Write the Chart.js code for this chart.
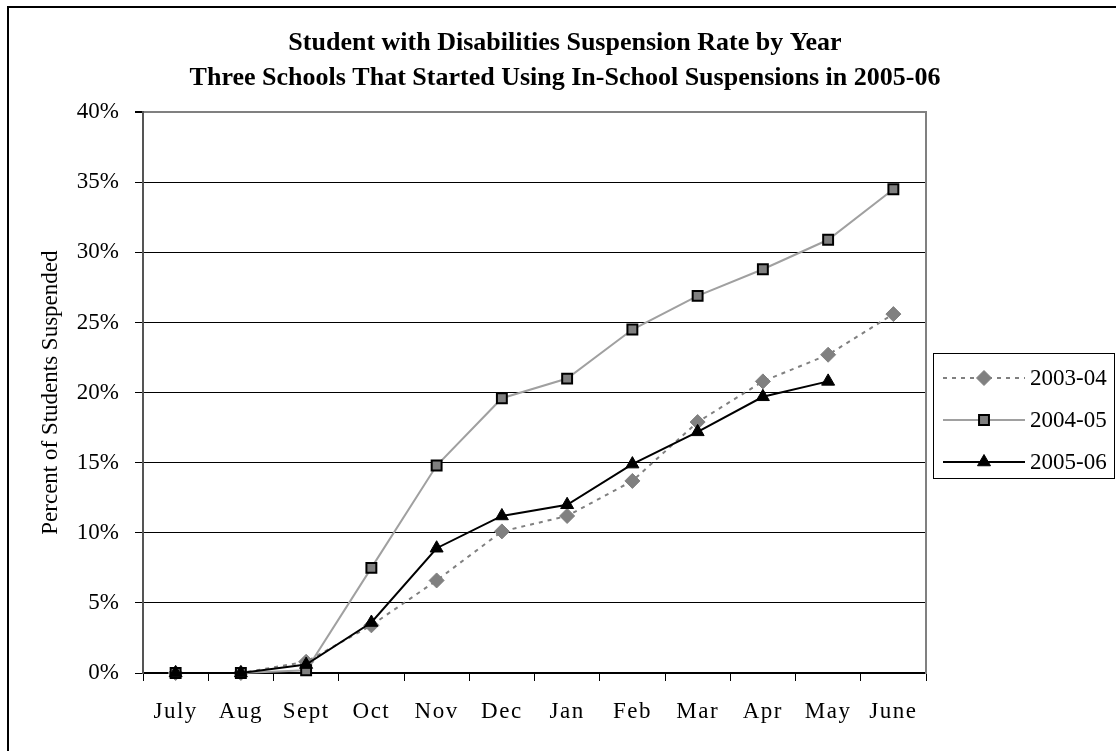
<!DOCTYPE html>
<html>
<head>
<meta charset="utf-8">
<script src="https://cdn.jsdelivr.net/npm/chart.js@4/dist/chart.umd.min.js"></script>
<style>
  html, body { margin: 0; padding: 0; background: #fff; }
  #wrap { width: 1116px; height: 751px; position: relative; }
</style>
</head>
<body>
<div id="wrap"><canvas id="chart" width="1116" height="751"></canvas></div>
<script>
// Months of the school year
const months = ['July', 'Aug', 'Sept', 'Oct', 'Nov', 'Dec', 'Jan', 'Feb', 'Mar', 'Apr', 'May', 'June'];

// Cumulative suspension rate (%) for students with disabilities
const rate2003_04 = [0, 0, 0.8, 3.4, 6.6, 10.1, 11.2, 13.7, 17.9, 20.8, 22.7, 25.6];
const rate2004_05 = [0, 0, 0.2, 7.5, 14.8, 19.6, 21.0, 24.5, 26.9, 28.8, 30.9, 34.5];
const rate2005_06 = [0, 0, 0.6, 3.6, 8.9, 11.2, 12.0, 14.9, 17.2, 19.7, 20.8, null];

const seriesLabels = ['2003-04', '2004-05', '2005-06'];
const titleLines = [
  'Student with Disabilities Suspension Rate by Year',
  'Three Schools That Started Using In-School Suspensions in 2005-06'
];
const yTitle = 'Percent of Students Suspended';

const FONT = "'Liberation Serif', 'Times New Roman', serif";
Chart.defaults.font.family = FONT;
Chart.defaults.color = '#000';

// Category axis whose labels are drawn with a little letter spacing
class SpacedCategoryScale extends Chart.CategoryScale {
  drawLabels(area) {
    const ctx = this.ctx;
    ctx.save();
    ctx.letterSpacing = '1.5px';
    super.drawLabels(area);
    ctx.restore();
  }
}
SpacedCategoryScale.id = 'spacedCategory';
SpacedCategoryScale.defaults = Chart.CategoryScale.defaults;
Chart.register(SpacedCategoryScale);

// Outer frame and white background
const framePlugin = {
  id: 'frame',
  beforeDraw(chart) {
    const ctx = chart.ctx;
    ctx.save();
    ctx.fillStyle = '#fff';
    ctx.fillRect(0, 0, chart.width, chart.height);
    ctx.strokeStyle = '#000';
    ctx.lineWidth = 2;
    ctx.beginPath();
    ctx.moveTo(8, chart.height + 5);
    ctx.lineTo(8, 7);
    ctx.lineTo(chart.width + 5, 7);
    ctx.stroke();
    ctx.restore();
  }
};

// Boxed legend with line samples and markers
const boxLegendPlugin = {
  id: 'boxLegend',
  afterDraw(chart) {
    const ctx = chart.ctx;
    const area = chart.chartArea;
    const left = area.right + 7, right = chart.width - 1;
    const top = 353, rowGap = 42;
    const bottom = top + 125;
    ctx.save();
    ctx.strokeStyle = '#000';
    ctx.lineWidth = 1;
    ctx.strokeRect(left + 0.5, top + 0.5, right - left - 1, bottom - top);
    chart.data.datasets.forEach((ds, i) => {
      const y = top + 25 + i * rowGap;
      const x0 = left + 10, x1 = left + 92, xm = (x0 + x1) / 2;
      ctx.save();
      ctx.strokeStyle = ds.borderColor;
      ctx.lineWidth = ds.borderWidth;
      ctx.setLineDash(ds.borderDash || []);
      ctx.beginPath();
      ctx.moveTo(x0, y);
      ctx.lineTo(x1, y);
      ctx.stroke();
      ctx.restore();
      ctx.save();
      ctx.fillStyle = ds.pointBackgroundColor;
      ctx.strokeStyle = ds.pointBorderColor;
      ctx.lineWidth = ds.pointBorderWidth;
      Chart.helpers.drawPoint(ctx, {
        pointStyle: ds.pointStyle,
        radius: ds.pointRadius,
        borderWidth: ds.pointBorderWidth,
        rotation: 0
      }, xm, y);
      ctx.restore();
      ctx.fillStyle = '#000';
      ctx.font = '23px ' + FONT;
      ctx.textBaseline = 'middle';
      ctx.textAlign = 'left';
      ctx.fillText(ds.label, x1 + 5, y + 1);
    });
    ctx.restore();
  }
};

const chart = new Chart(document.getElementById('chart'), {
  type: 'line',
  data: {
    labels: months,
    datasets: [
      {
        label: seriesLabels[0],
        data: rate2003_04,
        borderColor: '#808080',
        borderWidth: 2,
        borderDash: [4, 5],
        pointStyle: 'rectRot',
        pointRadius: 7.5,
        pointBackgroundColor: '#808080',
        pointBorderColor: '#808080',
        pointBorderWidth: 1,
        order: 2,
        clip: false
      },
      {
        label: seriesLabels[1],
        data: rate2004_05,
        borderColor: '#a0a0a0',
        borderWidth: 2,
        pointStyle: 'rect',
        pointRadius: 7,
        pointBackgroundColor: '#808080',
        pointBorderColor: '#000',
        pointBorderWidth: 2,
        order: 1,
        clip: false
      },
      {
        label: seriesLabels[2],
        data: rate2005_06,
        borderColor: '#000',
        borderWidth: 2,
        pointStyle: 'triangle',
        pointRadius: 7.5,
        pointBackgroundColor: '#000',
        pointBorderColor: '#000',
        pointBorderWidth: 1,
        order: 0,
        clip: false
      }
    ]
  },
  options: {
    responsive: false,
    animation: false,
    events: [],
    layout: { padding: { left: 14, right: 0, top: 0, bottom: 0 } },
    plugins: {
      legend: { display: false },
      tooltip: { enabled: false },
      title: {
        display: true,
        text: titleLines,
        color: '#000',
        font: { family: FONT, size: 26, weight: 'bold', lineHeight: 1.35 },
        padding: { top: 26, bottom: 16 }
      }
    },
    elements: { line: { tension: 0 } },
    scales: {
      x: {
        type: 'spacedCategory',
        offset: true,
        grid: {
          offset: true,
          drawOnChartArea: false,
          drawTicks: true,
          tickLength: 8,
          color: '#000',
          lineWidth: 1
        },
        border: { color: '#000', width: 1.5 },
        ticks: {
          color: '#000',
          font: { family: FONT, size: 23 },
          padding: 17,
          maxRotation: 0,
          autoSkip: false
        },
        afterFit(scale) { scale.height = 78; }
      },
      y: {
        min: 0,
        max: 40,
        position: 'left',
        grid: {
          color: (c) => (c.tick && c.tick.value === 40 ? '#808080' : '#000'),
          lineWidth: (c) => (c.tick && c.tick.value === 40 ? 2 : 1),
          tickColor: '#000',
          tickLength: 8,
          drawTicks: true
        },
        border: { color: '#555', width: 2 },
        ticks: {
          stepSize: 5,
          color: '#000',
          font: { family: FONT, size: 23 },
          padding: 16,
          callback: (v) => v + '%'
        },
        title: {
          display: true,
          text: yTitle,
          color: '#000',
          font: { family: FONT, size: 23 },
          padding: { top: 23, bottom: 0 }
        },
        afterFit(scale) { scale.width = 129; }
      },
      yRight: {
        position: 'right',
        display: true,
        grid: { drawOnChartArea: false, drawTicks: false },
        border: { color: '#808080', width: 2 },
        ticks: { display: false },
        afterFit(scale) { scale.width = 190; }
      }
    }
  },
  plugins: [framePlugin, boxLegendPlugin]
});
</script>
</body>
</html>
